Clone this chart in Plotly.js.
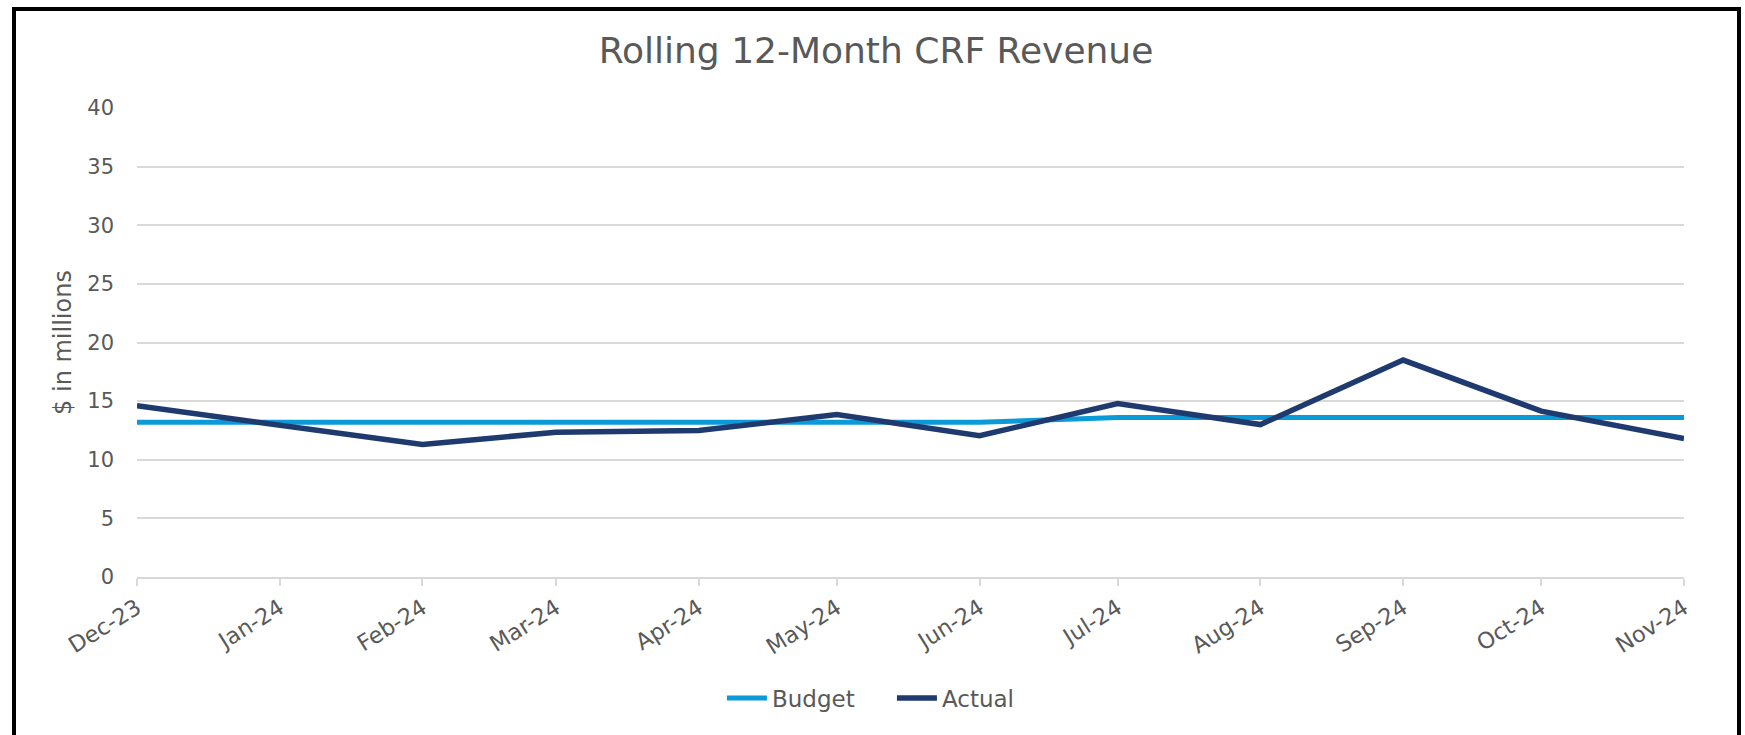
<!DOCTYPE html>
<html>
<head>
<meta charset="utf-8">
<script src="https://cdn.plot.ly/plotly-3.0.1.min.js"></script>
<style>
  html, body { margin: 0; padding: 0; background: #fff; }
  #wrap { position: relative; width: 1745px; height: 735px; overflow: hidden; }
  #chart { position: absolute; left: 0; top: 0; width: 1745px; height: 735px; }
  #frame {
    position: absolute; left: 12px; top: 7px; width: 1721px; height: 760px;
    border: 4px solid #000; pointer-events: none;
  }
</style>
</head>
<body>
<div id="wrap">
  <div id="chart"></div>
  <div id="frame"></div>
</div>
<script>
  // months on the x axis (first of each month)
  var months = [
    "2023-12-01", "2024-01-01", "2024-02-01", "2024-03-01", "2024-04-01", "2024-05-01",
    "2024-06-01", "2024-07-01", "2024-08-01", "2024-09-01", "2024-10-01", "2024-11-01"
  ];
  // $ in millions
  var budget = [13.2, 13.2, 13.2, 13.2, 13.2, 13.2, 13.2, 13.6, 13.6, 13.6, 13.6, 13.6];
  var actual = [14.6, 13.0, 11.3, 12.35, 12.5, 13.85, 12.05, 14.8, 13.0, 18.5, 14.15, 11.8];

  var yTicks = [0, 5, 10, 15, 20, 25, 30, 35, 40];

  var textColor = "#595959";
  var gridColor = "#D9D9D9";
  var font = "DejaVu Sans, sans-serif";

  var trace1 = {
    x: months,
    y: budget,
    mode: "lines",
    name: "Budget",
    line: { color: "#0A9AD8", width: 5 },
    hoverinfo: "skip"
  };
  var trace2 = {
    x: months,
    y: actual,
    mode: "lines",
    name: "Actual",
    line: { color: "#1F3A6E", width: 5.5 },
    hoverinfo: "skip"
  };

  var layout = {
    width: 1745,
    height: 735,
    margin: { l: 137, r: 61, t: 108, b: 158 },
    paper_bgcolor: "#fff",
    plot_bgcolor: "#fff",
    font: { family: font, color: textColor },
    title: {
      text: "Rolling 12-Month CRF Revenue",
      font: { family: font, size: 36, color: textColor },
      x: 0.502, xref: "container", xanchor: "center",
      y: 1, yref: "container", yanchor: "top", pad: { t: 38 }
    },
    xaxis: {
      type: "date",
      range: [months[0], months[months.length - 1]],
      tickvals: months,
      tickformat: "%b-%y",
      tickangle: -32,
      tickfont: { family: font, size: 22.5, color: textColor },
      showgrid: false,
      showline: true,
      linecolor: gridColor,
      linewidth: 2,
      ticks: "outside",
      ticklen: 7,
      tickwidth: 2,
      tickcolor: gridColor,
      zeroline: false,
      fixedrange: true
    },
    yaxis: {
      range: [0, 40],
      tickvals: yTicks,
      tickfont: { family: font, size: 21, color: textColor },
      showgrid: true,
      gridcolor: gridColor,
      gridwidth: 2,
      zeroline: false,
      showline: false,
      ticks: "",
      ticklabelstandoff: 22,
      title: {
        text: "$ in millions",
        font: { family: font, size: 24, color: textColor },
        standoff: 8
      },
      fixedrange: true
    },
    showlegend: true,
    legend: {
      orientation: "h",
      x: 0.488, xanchor: "center",
      y: -0.258, yanchor: "middle",
      font: { family: font, size: 23, color: textColor },
      itemwidth: 40,
      entrywidth: 115,
      traceorder: "normal"
    }
  };

  Plotly.newPlot("chart", [trace1, trace2], layout, { staticPlot: true, displayModeBar: false });
</script>
</body>
</html>
